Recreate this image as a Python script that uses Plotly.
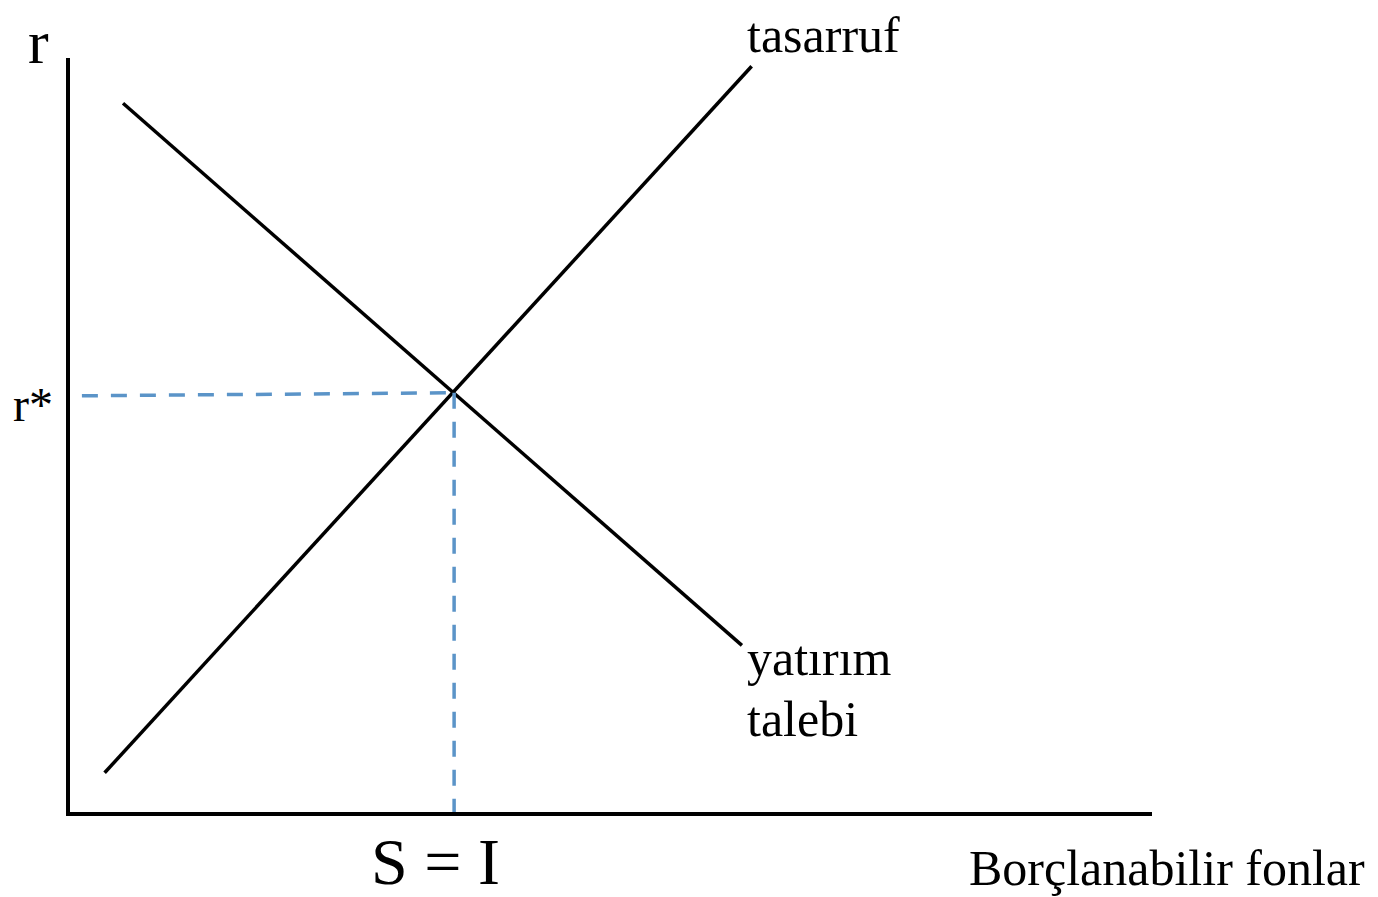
import plotly.graph_objects as go

# Conceptual loanable-funds diagram (abstract units, 0-100 on each axis)
savings_x = [3.2, 63.0]
savings_y = [5.2, 98.9]
invest_x = [4.9, 62.1]
invest_y = [94.0, 22.1]
eq_x = 35.5      # S = I
eq_r = 55.6      # r*
axis_start_x = 1.1

labels = {
    "savings": "tasarruf",
    "invest1": "yatırım",
    "invest2": "talebi",
    "r": "r",
    "rstar": "r*",
    "si": "S = I",
    "xlab": "Borçlanabilir fonlar",
}

FONT = "Liberation Serif, Times New Roman, serif"
BLUE = "#5b94c8"
LW = 3.5

fig = go.Figure()
fig.add_trace(go.Scatter(x=savings_x, y=savings_y, mode="lines",
                         line=dict(color="black", width=LW), hoverinfo="skip"))
fig.add_trace(go.Scatter(x=invest_x, y=invest_y, mode="lines",
                         line=dict(color="black", width=LW), hoverinfo="skip"))
fig.add_trace(go.Scatter(x=[axis_start_x, eq_x], y=[eq_r - 0.4, eq_r], mode="lines",
                         line=dict(color=BLUE, width=LW, dash="16px,13px"), hoverinfo="skip"))
fig.add_trace(go.Scatter(x=[eq_x, eq_x], y=[eq_r, 0], mode="lines",
                         line=dict(color=BLUE, width=LW, dash="16px,13px"), hoverinfo="skip"))

def ann(text, x, y, size, xanchor="left"):
    # axis ranges are 0-100 on a full domain, so paper = value / 100
    fig.add_annotation(x=x / 100, y=y / 100, xref="paper", yref="paper", text=text,
                       showarrow=False, xanchor=xanchor, yanchor="middle", borderpad=0,
                       font=dict(family=FONT, size=size, color="black"))

ann(labels["savings"], 62.5, 103.1, 50)
ann(labels["invest1"], 62.5, 20.4, 50)
ann(labels["invest2"], 62.5, 12.4, 50)
ann(labels["rstar"], -5.4, 54.0, 48)
ann(labels["r"], -4.0, 102.1, 62)
ann(labels["si"], 27.7, -6.6, 66)
ann(labels["xlab"], 83.0, -7.4, 50)

fig.update_layout(
    width=1378, height=897, autosize=False,
    margin=dict(l=62, r=234, t=50, b=93),
    paper_bgcolor="white", plot_bgcolor="white",
    showlegend=False,
    xaxis=dict(range=[0, 100], showline=True, linewidth=LW, linecolor="black",
               showgrid=False, zeroline=False, showticklabels=False, ticks=""),
    yaxis=dict(range=[0, 100], showline=True, linewidth=LW, linecolor="black",
               showgrid=False, zeroline=False, showticklabels=False, ticks=""),
)

fig.write_html("out.html")
